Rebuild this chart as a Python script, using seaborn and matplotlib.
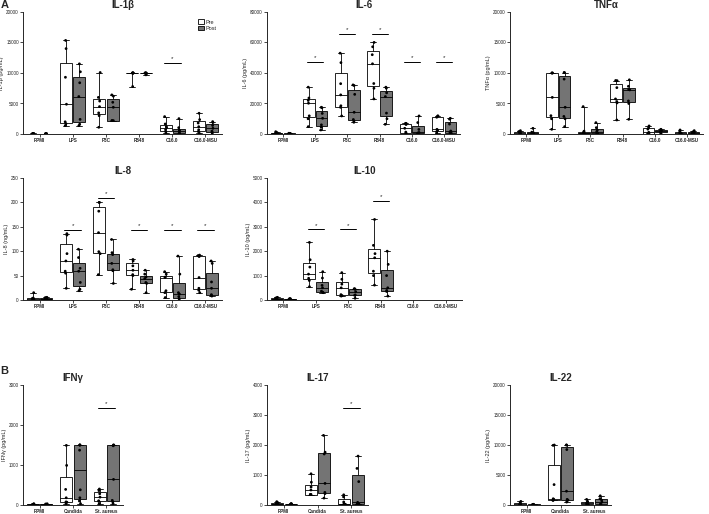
import pandas as pd
import matplotlib
matplotlib.use("Agg")
import matplotlib.pyplot as plt
import seaborn as sns

# ---- data (values per donor) ----
cats_a = ["RPMI", "LPS", "P3C", "R848", "C16.0", "C16.0-MSU"]
cats_b = ["RPMI", "Candida", "St. aureus"]

il1b_pre = [[20, 50, 80, 100, 60, 30, 40],
            [1370, 1700, 2000, 4880, 9300, 14000, 15340],
            [1100, 3000, 3460, 4490, 5400, 6000, 10080],
            [7780, 10000, 10000, 10000, 10000, 10000, 10000],
            [100, 400, 700, 1040, 1200, 1640, 2850],
            [100, 400, 700, 1200, 1800, 2360, 3400]]
il1b_post = [[10, 30, 40, 60, 50, 20, 30],
             [1370, 1600, 2400, 6140, 8400, 10200, 11500],
             [2190, 2190, 2200, 4380, 5200, 6200, 6410],
             [9700, 9900, 10000, 10000, 10000, 10000, 10000],
             [50, 100, 120, 490, 600, 1040, 2520],
             [50, 300, 460, 930, 1400, 1880, 2030]]
il1b_sig = [("C16.0", 11700)]

il6_pre = [[0, 100, 300, 500, 800, 1000, 1500],
           [4820, 10000, 11900, 20170, 22000, 23600, 30700],
           [11840, 17500, 18500, 25650, 33000, 46800, 53000],
           [23000, 30000, 33100, 46030, 52000, 57200, 60060],
           [200, 500, 1260, 3730, 6200, 6960, 7000],
           [500, 1500, 2440, 3070, 11000, 11800, 11840]]
il6_post = [[0, 50, 100, 200, 300, 400, 500],
            [2630, 4500, 6000, 10300, 13500, 17180, 17540],
            [7700, 8500, 9500, 14250, 26000, 31800, 32200],
            [6360, 10000, 13700, 24550, 27000, 30000, 30700],
            [0, 200, 680, 1000, 3000, 7500, 11840],
            [0, 500, 1260, 1970, 6500, 9720, 10300]]
il6_sig = [("LPS", 47100), ("P3C", 65500), ("R848", 65500),
           ("C16.0", 47100), ("C16.0-MSU", 47100)]

tnf_pre = [[0, 50, 100, 200, 300, 400, 550],
           [770, 2500, 3000, 6000, 10000, 10000, 10000],
           [0, 100, 120, 200, 300, 460, 4490],
           [2300, 5100, 5320, 5750, 7600, 8740, 8770],
           [0, 50, 100, 270, 800, 1060, 1320],
           [0, 30, 60, 100, 200, 300, 660]]
tnf_post = [[0, 0, 50, 100, 200, 300, 930],
            [1210, 2500, 2880, 4380, 9000, 10060, 10080],
            [0, 100, 120, 380, 600, 1040, 1860],
            [2410, 5000, 5420, 7230, 7300, 7820, 8880],
            [0, 250, 290, 490, 600, 720, 770],
            [0, 30, 60, 150, 250, 350, 550]]
tnf_sig = []

il8_pre = [[0, 0.5, 1, 2, 3, 4, 15],
           [24, 55, 59, 80, 95, 133, 136],
           [52, 95, 99, 138, 182, 200, 200],
           [22, 50, 52, 61, 70, 80, 83],
           [5, 15, 19, 46, 47, 53, 58],
           [15, 20, 24, 46, 89, 91, 92]]
il8_post = [[0, 1, 2, 3, 4, 5, 5.5],
            [19, 22, 36, 59, 65, 87, 104],
            [34, 60, 62, 75, 93, 97, 124],
            [15, 34, 36, 44, 47, 53, 61],
            [0, 3, 7, 12, 15, 53, 90],
            [8, 9, 11, 24, 37, 75, 80]]
il8_sig = [("LPS", 144), ("P3C", 210), ("R848", 144),
           ("C16.0", 144), ("C16.0-MSU", 144)]

il10_pre = [[0, 20, 40, 60, 80, 90, 109],
            [545, 800, 890, 1060, 1350, 1650, 2360],
            [160, 180, 220, 500, 650, 850, 1120],
            [610, 1000, 1180, 1730, 1900, 2240, 3300],
            [], []]
il10_post = [[0, 10, 20, 30, 40, 50, 60],
             [300, 320, 360, 500, 600, 900, 1160],
             [70, 190, 210, 340, 440, 460, 460],
             [160, 350, 390, 500, 1000, 1460, 2000],
             [], []]
il10_sig = [("LPS", 2890), ("P3C", 2890), ("R848", 4060)]

ifng_pre = [[0, 5, 10, 15, 20, 25, 30],
            [33, 70, 78, 180, 390, 990, 1490],
            [33, 90, 106, 197, 280, 360, 400]]
ifng_post = [[0, 5, 10, 15, 20, 25, 30],
             [33, 100, 180, 380, 1370, 1500, 1500, 1500],
             [33, 80, 116, 640, 1480, 1500, 1500]]
ifng_sig = [("St. aureus", 2435)]

il17_pre = [[10, 20, 30, 50, 70, 90, 110],
            [350, 350, 350, 500, 600, 760, 1040],
            [20, 22, 24, 44, 100, 270, 340]]
il17_post = [[10, 15, 20, 30, 35, 40, 45],
             [230, 380, 420, 720, 1700, 1760, 2320],
             [20, 40, 48, 88, 780, 1220, 1630]]
il17_sig = [("St. aureus", 3250)]

il22_pre = [[0, 50, 100, 150, 200, 400, 600],
            [765, 800, 940, 1040, 3400, 9940, 10000],
            [0, 100, 120, 330, 500, 600, 930]]
il22_post = [[0, 20, 40, 60, 80, 100, 120],
             [490, 800, 940, 2300, 9240, 10000, 10000],
             [0, 100, 120, 490, 800, 1060, 1530]]
il22_sig = []

# ---- style ----
sns.set_style("ticks")
plt.rcParams["font.family"] = ["Liberation Sans", "DejaVu Sans"]
plt.rcParams["axes.linewidth"] = 0.7

pal = {"Pre": "white", "Post": "#747474"}
W, H = 709, 514
fig = plt.figure(figsize=(7.09, 5.14), dpi=100)


def add_ax(x0, x1, ytop, ybot):
    return fig.add_axes([x0 / W, 1 - ybot / H, (x1 - x0) / W, (ybot - ytop) / H])


def draw(ax, cats, pre, post, ymax, step, title, ylabel, sigs, legend=False):
    rows = []
    for c, a, b in zip(cats, pre, post):
        rows += [(c, "Pre", v) for v in a]
        rows += [(c, "Post", v) for v in b]
    df = pd.DataFrame(rows, columns=["cond", "time", "value"])

    sns.boxplot(data=df, x="cond", y="value", hue="time", order=cats,
                hue_order=["Pre", "Post"], palette=pal, whis=(0, 100),
                width=0.8, gap=0.1, linewidth=0.6, linecolor="black",
                showfliers=False, legend=legend, ax=ax)
    sns.stripplot(data=df, x="cond", y="value", hue="time", order=cats,
                  hue_order=["Pre", "Post"], palette={"Pre": "black", "Post": "black"},
                  dodge=True, jitter=0.06, size=2, legend=False, ax=ax, zorder=5)

    ax.set_xlim(-0.5, len(cats) - 0.5)
    ax.set_ylim(0, ymax)
    ax.set_yticks(range(0, ymax + 1, step))
    ax.set_xlabel("")
    ax.set_ylabel(ylabel, fontsize=4, labelpad=1.5)
    ax.set_title(title, fontsize=7, fontweight="bold", pad=3)
    ax.tick_params(axis="y", labelsize=3.3, length=2, width=0.6, pad=1)
    ax.tick_params(axis="x", labelsize=3.3, length=2, width=0.6, pad=1)
    for lab in ax.get_xticklabels():
        lab.set_fontweight("bold")
    sns.despine(ax=ax)

    for cat, y in sigs:
        i = cats.index(cat)
        ax.plot([i - 0.25, i + 0.25], [y, y], color="black", lw=0.7)
        ax.text(i, y + ymax * 0.015, "*", ha="center", va="bottom", fontsize=4.5)

    if legend:
        ax.legend(loc="upper right", bbox_to_anchor=(1.0, 0.98), frameon=False,
                  fontsize=4, handlelength=1.0, handleheight=0.9,
                  handletextpad=0.4, labelspacing=0.2)


ax1 = add_ax(23, 222, 12, 134)
draw(ax1, cats_a, il1b_pre, il1b_post, 20000, 5000, "IL-1β", "IL-1β (pg/mL)", il1b_sig, legend=True)
ax2 = add_ax(267, 460, 12, 134)
draw(ax2, cats_a, il6_pre, il6_post, 80000, 20000, "IL-6", "IL-6 (pg/mL)", il6_sig)
ax3 = add_ax(510, 703, 12, 134)
draw(ax3, cats_a, tnf_pre, tnf_post, 20000, 5000, "TNFα", "TNFα (pg/mL)", tnf_sig)

ax4 = add_ax(23, 222, 178, 300)
draw(ax4, cats_a, il8_pre, il8_post, 250, 50, "IL-8", "IL-8 (ng/mL)", il8_sig)
ax5 = add_ax(267, 462, 178, 300)
draw(ax5, cats_a, il10_pre, il10_post, 5000, 1000, "IL-10", "IL-10 (pg/mL)", il10_sig)

ax6 = add_ax(23, 123, 385, 505)
draw(ax6, cats_b, ifng_pre, ifng_post, 3000, 1000, "IFNγ", "IFNγ (pg/mL)", ifng_sig)
ax7 = add_ax(267, 368, 385, 505)
draw(ax7, cats_b, il17_pre, il17_post, 4000, 1000, "IL-17", "IL-17 (pg/mL)", il17_sig)
ax8 = add_ax(510, 611, 385, 505)
draw(ax8, cats_b, il22_pre, il22_post, 20000, 5000, "IL-22", "IL-22 (pg/mL)", il22_sig)

fig.text(0.5 / W, 1 - 0.5 / H, "A", fontsize=8, fontweight="bold", va="top", ha="left")
fig.text(0.5 / W, 1 - 366 / H, "B", fontsize=8, fontweight="bold", va="top", ha="left")

fig.savefig("out.png", dpi=100)
